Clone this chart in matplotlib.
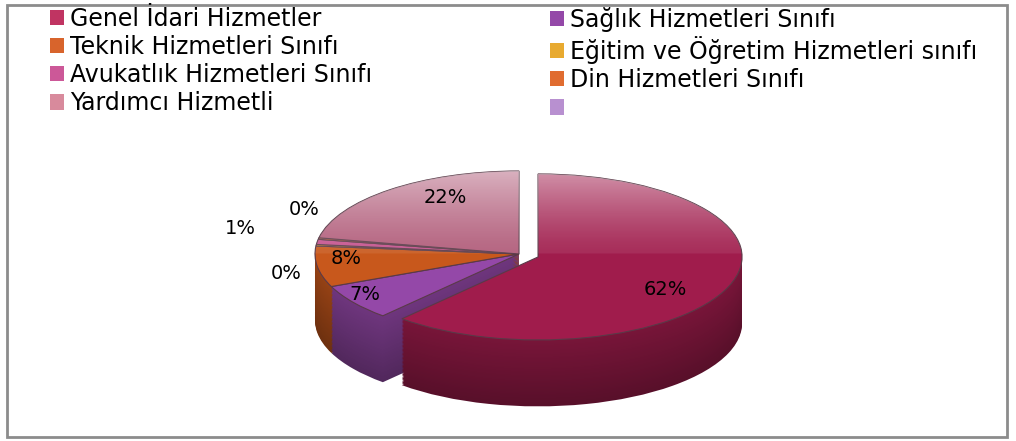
import numpy as np
import matplotlib
matplotlib.use("Agg")
import matplotlib.pyplot as plt
from matplotlib.patches import Patch, Rectangle
from matplotlib.colors import to_rgb

# Data
categories = ["Genel İdari Hizmetler", "Sağlık Hizmetleri Sınıfı",
              "Teknik Hizmetleri Sınıfı", "Eğitim ve Öğretim Hizmetleri sınıfı",
              "Avukatlık Hizmetleri Sınıfı", "Din Hizmetleri Sınıfı",
              "Yardımcı Hizmetli", ""]
shares = [62, 7, 8, 0.3, 1, 0.3, 22]   # last legend entry has no slice

colors = ["#a01c4c", "#9448a8", "#c8581c", "#e4a828", "#c4508c", "#e06c28",
          "#b05a78", "#b48cc8"]
legend_colors = ["#c03462", "#9448a8", "#d8642c", "#e8aa30", "#cc5898", "#e06c30",
                 "#d88a9c", "#b890d0"]

# label placement (radius factor, vertical offset) in pie units
lab_r = [0.77, 0.93, 0.855, 1.15, 1.38, 1.07, 0.573]
lab_dy = [-0.15, 0.05, 0.08, -0.36, 0.10, 0.34, 0.24]

W, H = 1016, 441
fig = plt.figure(figsize=(W / 100, H / 100), dpi=100)
fig.patch.set_facecolor("white")

# pie axes: x unit = 204 px, y unit = 83 px, centre at (519, 254)
ax = fig.add_axes([0, 0, 1, 1])
cx, cy, a, b = 519, 254, 204, 83


def shade(c, f):
    r, g, bl = to_rgb(c)
    return (r * f, g * f, bl * f)


explode = [0.1] + [0] * (len(shares) - 1)
depth = 0.8
nlay = 50
for k in range(nlay, 0, -1):
    off = depth * k / nlay
    f = 0.55 + 0.2 * (1 - k / nlay)
    ax.pie(shares, colors=[shade(c, f) for c in colors[:len(shares)]],
           startangle=90, counterclock=False, explode=explode,
           center=(0, -off), radius=1, frame=True,
           wedgeprops=dict(linewidth=0))
wedges, _ = ax.pie(shares, colors=colors[:len(shares)], startangle=90,
                   counterclock=False, explode=explode, center=(0, 0),
                   radius=1, frame=True,
                   wedgeprops=dict(linewidth=0.8, edgecolor="#5a3a48"))

# lighter upper half on the top faces
yy = np.linspace(-1.1, 1.1, 256).reshape(-1, 1)
alpha = np.clip(yy, 0, None) ** 1.3 * 0.45 + 0.08 * (yy > 0)
for w in wedges:
    rgba = np.dstack([np.ones_like(yy)] * 3 + [alpha])
    im = ax.imshow(rgba, extent=(-1.3, 1.3, -1.1, 1.1), origin="lower",
                   aspect="auto", zorder=w.get_zorder() + 0.1)
    im.set_clip_path(w)

ax.set_aspect("auto")
ax.set_xlim(-cx / a, (W - cx) / a)
ax.set_ylim(-(H - cy) / b, cy / b)
ax.axis("off")

total = sum(shares)
start = 90.0
for i, v in enumerate(shares):
    sweep = 360.0 * v / total
    mid = np.deg2rad(start - sweep / 2)
    start -= sweep
    ax.text(lab_r[i] * np.cos(mid), lab_r[i] * np.sin(mid) + lab_dy[i],
            f"{v:.0f}%", ha="center", va="center", fontsize=14, color="black")

# legend in two columns, row by row
handles = [Patch(facecolor=c, edgecolor="none") for c in legend_colors]
left = [0, 2, 4, 6]
right = [1, 3, 5, 7]
for idx, xpos in ((left, 33), (right, 533)):
    fig.legend([handles[i] for i in idx], [categories[i] for i in idx],
               loc="upper left", bbox_to_anchor=(xpos / W, 1 + 10 / H),
               frameon=False, fontsize=17, handlelength=0.62, handleheight=0.62,
               handletextpad=0.25, labelspacing=0.18, borderpad=0.2)

# chart border
fig.add_artist(Rectangle((7 / W, 4 / H), 1000 / W, 432 / H, transform=fig.transFigure,
                         fill=False, edgecolor="#8c8c8c", linewidth=2))

fig.savefig("out.png", dpi=100)
